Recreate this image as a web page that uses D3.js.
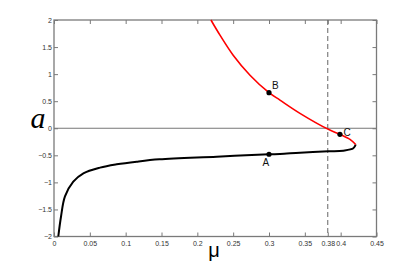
<!DOCTYPE html>
<html>
<head>
<meta charset="utf-8">
<script src="https://cdn.jsdelivr.net/npm/d3@7"></script>
<style>
  body { margin: 0; background: #fff; }
  svg { display: block; }
</style>
</head>
<body>
<svg width="415" height="266"></svg>
<script>
// lower (stable) branch
var muBlack = [0.006, 0.0098, 0.0153, 0.0269, 0.041, 0.0642, 0.0875, 0.1154, 0.147, 0.227, 0.3, 0.3153, 0.3432, 0.3828, 0.4037, 0.4177, 0.421];
var aBlack  = [-2.0, -1.63, -1.26, -0.987, -0.833, -0.728, -0.667, -0.617, -0.574, -0.525, -0.48, -0.476, -0.451, -0.426, -0.414, -0.37, -0.30];

// upper branch (red)
var muRed = [0.421, 0.413, 0.399, 0.3828, 0.3432, 0.3153, 0.3, 0.2735, 0.25, 0.2316, 0.219];
var aRed  = [-0.30, -0.204, -0.112, -0.02, 0.276, 0.52, 0.657, 0.98, 1.35, 1.72, 2.0];

// marked points
var ptNames = ['A', 'B', 'C'];
var ptMu = [0.3, 0.3, 0.399];
var ptA = [-0.48, 0.657, -0.112];

var xTicks = [0, 0.05, 0.1, 0.15, 0.2, 0.25, 0.3, 0.35, 0.382, 0.4, 0.45];
var xTickLabels = ['0', '0.05', '0.1', '0.15', '0.2', '0.25', '0.3', '0.35', '0.38', '0.4', '0.45'];
var yTicks = [-2, -1.5, -1, -0.5, 0, 0.5, 1, 1.5, 2];
var muCrit = 0.382;

var svg = d3.select('svg');
var pLeft = 54, pRight = 376.5, pTop = 20, pBottom = 236.5;

var x = d3.scaleLinear().domain([0, 0.45]).range([pLeft, pRight]);
var y = d3.scaleLinear().domain([-2, 2]).range([pBottom, pTop]);

var fmtY = function(d){ return String(d).replace('-', '\u2212'); };

// axes, MATLAB style ticks pointing inward
var axisCol = '#7a7a7a';
function styleAxis(g){
    g.select('.domain').remove();
    g.selectAll('.tick line').attr('stroke', axisCol);
    g.selectAll('.tick text').attr('fill', '#333').attr('font-family', 'Liberation Sans, Arial, sans-serif').attr('font-size', '7px');
}

svg.append('g').attr('transform', 'translate(0,' + pBottom + ')')
    .call(d3.axisBottom(x).tickValues(xTicks).tickSize(-4).tickPadding(5)
        .tickFormat(function(d, i){ return xTickLabels[i]; }))
    .call(styleAxis);
svg.append('g').attr('transform', 'translate(0,' + pTop + ')')
    .call(d3.axisTop(x).tickValues(xTicks).tickSize(-4).tickFormat(''))
    .call(styleAxis);
svg.append('g').attr('transform', 'translate(' + pLeft + ',0)')
    .call(d3.axisLeft(y).tickValues(yTicks).tickSize(-4).tickPadding(2).tickFormat(fmtY))
    .call(styleAxis);
svg.append('g').attr('transform', 'translate(' + pRight + ',0)')
    .call(d3.axisRight(y).tickValues(yTicks).tickSize(-4).tickFormat(''))
    .call(styleAxis);

// box
svg.append('rect')
    .attr('x', pLeft).attr('y', pTop)
    .attr('width', pRight - pLeft).attr('height', pBottom - pTop)
    .attr('fill', 'none').attr('stroke', axisCol).attr('stroke-width', 1.3);

// a = 0 line
svg.append('line')
    .attr('x1', x(0)).attr('x2', x(0.45))
    .attr('y1', y(0)).attr('y2', y(0))
    .attr('stroke', '#777').attr('stroke-width', 1);

// dashed vertical line
svg.append('line')
    .attr('x1', x(muCrit)).attr('x2', x(muCrit))
    .attr('y1', pTop).attr('y2', pBottom)
    .attr('stroke', '#666').attr('stroke-width', 1)
    .attr('stroke-dasharray', '5,3');

var line = d3.line()
    .x(function(d){ return x(d[0]); })
    .y(function(d){ return y(d[1]); })
    .curve(d3.curveCatmullRom.alpha(0.5));

svg.append('path')
    .datum(d3.zip(muBlack, aBlack))
    .attr('d', line)
    .attr('fill', 'none').attr('stroke', '#000').attr('stroke-width', 2);

svg.append('path')
    .datum(d3.zip(muRed, aRed))
    .attr('d', line)
    .attr('fill', 'none').attr('stroke', '#ff0000').attr('stroke-width', 1.6);

// points and labels
var pts = d3.range(ptNames.length).map(function(i){
    return {name: ptNames[i], mu: ptMu[i], a: ptA[i]};
});
svg.selectAll('.pt')
    .data(pts)
    .enter()
    .append('circle')
    .attr('class', 'pt')
    .attr('cx', function(d){ return x(d.mu); })
    .attr('cy', function(d){ return y(d.a); })
    .attr('r', 2.6)
    .attr('fill', '#000');

var lblOff = {A: [-6.5, 11.5], B: [3, -3.5], C: [3.5, 2]};
svg.selectAll('.ptlabel')
    .data(pts)
    .enter()
    .append('text')
    .attr('class', 'ptlabel')
    .attr('x', function(d){ return x(d.mu) + lblOff[d.name][0]; })
    .attr('y', function(d){ return y(d.a) + lblOff[d.name][1]; })
    .attr('font-family', 'Liberation Sans, Arial, sans-serif')
    .attr('font-size', '10px')
    .attr('fill', '#111')
    .text(function(d){ return d.name; });

// axis titles
svg.append('text')
    .attr('x', 38).attr('y', 128)
    .attr('text-anchor', 'middle')
    .attr('font-family', 'Liberation Serif, Times New Roman, serif')
    .attr('font-style', 'italic')
    .attr('font-size', '30px')
    .text('a');

svg.append('text')
    .attr('x', 214).attr('y', 257)
    .attr('text-anchor', 'middle')
    .attr('font-family', 'Liberation Sans, Arial, sans-serif')
    .attr('font-size', '20px')
    .text('\u03bc');
</script>
</body>
</html>
